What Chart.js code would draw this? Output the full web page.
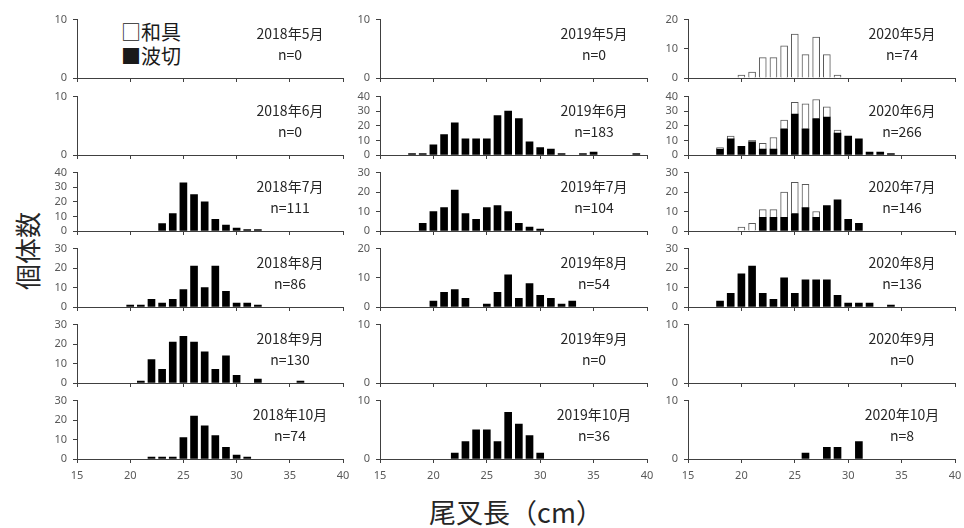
<!DOCTYPE html>
<html><head><meta charset="utf-8">
<script src="https://cdn.jsdelivr.net/npm/chart.js@4.4.1/dist/chart.umd.min.js"></script>
<style>
body{margin:0;background:#fff;}
#wrap{position:relative;width:964px;height:528px;overflow:hidden;font-family:"Noto Sans CJK JP","Noto Sans",sans-serif;background:#fff;}
canvas{position:absolute;}
.lbl{position:absolute;width:120px;text-align:center;font-size:14px;color:#262626;line-height:1;white-space:nowrap;}
.leg{position:absolute;left:121px;font-size:20px;color:#1a1a1a;line-height:1;white-space:nowrap;}
#ytitle{position:absolute;left:-23px;top:238px;width:100px;text-align:center;font-size:26px;color:#262626;transform:rotate(-90deg);line-height:1;}
#xtitle{position:absolute;left:366px;top:498px;width:300px;text-align:center;font-size:27px;color:#262626;line-height:1;}
</style></head><body><div id="wrap">
<div class="leg" style="top:22px">□和具</div>
<div class="leg" style="top:46px">■波切</div>
<div id="ytitle">個体数</div>
<div id="xtitle">尾叉長（cm）</div>
</div>
<script>
// length bins (cm)
const bins = [18,19,20,21,22,23,24,25,26,27,28,29,30,31,32,33,34,35,36,37,38,39];
const xTicks = [15,20,25,30,35,40];
const years = ['2018','2019','2020'];
const months = ['5','6','7','8','9','10'];

// 波切 (black)
const namikiri_2018_07 = [0,0,0,0,0,5,12,33,25,20,8,4,2,1,1,0,0,0,0,0,0,0];
const namikiri_2018_08 = [0,0,1,1,4,2,4,9,21,10,21,8,2,2,1,0,0,0,0,0,0,0];
const namikiri_2018_09 = [0,0,0,1,12,7,21,24,21,16,7,14,4,0,2,0,0,0,1,0,0,0];
const namikiri_2018_10 = [0,0,0,0,1,1,1,11,22,17,12,6,2,1,0,0,0,0,0,0,0,0];
const namikiri_2019_06 = [1,1,7,14,22,11,11,11,27,30,25,9,5,4,1,0,1,2,0,0,0,1];
const namikiri_2019_07 = [0,4,10,12,21,9,6,12,13,10,4,2,1,0,0,0,0,0,0,0,0,0];
const namikiri_2019_08 = [0,0,2,5,6,3,0,1,5,11,3,8,4,3,1,2,0,0,0,0,0,0];
const namikiri_2019_10 = [0,0,0,0,1,3,5,5,3,8,6,4,1,0,0,0,0,0,0,0,0,0];
const namikiri_2020_06 = [4,11,6,9,4,4,18,28,18,25,26,15,13,11,2,2,1,0,0,0,0,0];
const namikiri_2020_07 = [0,0,0,0,7,7,7,9,12,7,13,16,6,4,0,0,0,0,0,0,0,0];
const namikiri_2020_08 = [3,7,17,21,7,4,15,7,14,14,14,6,2,2,2,0,1,0,0,0,0,0];
const namikiri_2020_10 = [0,0,0,0,0,0,0,0,1,0,2,2,0,3,0,0,0,0,0,0,0,0];
// 和具 (white)
const wagu_2020_05 = [0,0,1,2,7,7,11,15,8,14,8,1,0,0,0,0,0,0,0,0,0,0];
const wagu_2020_06 = [1,2,0,1,4,8,6,8,17,13,7,2,0,0,0,0,0,0,0,0,0,0];
const wagu_2020_07 = [0,0,2,4,4,4,13,16,12,3,0,0,0,0,0,0,0,0,0,0,0,0];

const yMax_2018 = [10,10,40,30,30,30];
const yMax_2019 = [10,40,30,20,10,10];
const yMax_2020 = [20,40,30,30,10,10];
const n_2018 = [0,0,111,86,130,74];
const n_2019 = [0,183,104,54,0,36];
const n_2020 = [74,266,146,136,0,8];

// tables built from the arrays above
const namikiriTable = [
  [null,null,namikiri_2018_07,namikiri_2018_08,namikiri_2018_09,namikiri_2018_10],
  [null,namikiri_2019_06,namikiri_2019_07,namikiri_2019_08,null,namikiri_2019_10],
  [null,namikiri_2020_06,namikiri_2020_07,namikiri_2020_08,null,namikiri_2020_10]
];
const waguTable = [
  [null,null,null,null,null,null],
  [null,null,null,null,null,null],
  [wagu_2020_05,wagu_2020_06,wagu_2020_07,null,null,null]
];
const yMaxTable = [yMax_2018,yMax_2019,yMax_2020];
const nTable = [n_2018,n_2019,n_2020];

const wrap = document.getElementById('wrap');
const colL = [77,380,688], colR = [343,647,955];
const rowT = [19,96,172,248,324,400];
const PH = 59;
const axisC = '#404040';
const tickFont = {family:'"Noto Sans", sans-serif', size:11};

function pts(arr){
  return bins.map((b,i)=>({x:b,y:arr[i]})).filter(p=>p.y>0);
}

function makePanel(col,row){
  const L = colL[col], R = colR[col], T = rowT[row];
  const padL = 45, padT = 12, padR = 14, xh = 32;
  const w = R - L + padL + padR, h = PH + padT + xh;
  const cv = document.createElement('canvas');
  cv.width = w; cv.height = h;
  cv.style.left = (L-padL)+'px'; cv.style.top = (T-padT)+'px';
  cv.style.width = w+'px'; cv.style.height = h+'px';
  wrap.appendChild(cv);
  const datasets = [];
  const nk = namikiriTable[col][row], wg = waguTable[col][row];
  if (nk) datasets.push({label:'波切', data:pts(nk), backgroundColor:'#000', borderWidth:0, barThickness:7});
  if (wg) datasets.push({label:'和具', data:pts(wg), backgroundColor:'#fff', borderColor:'#595959', borderWidth:1, barThickness:7});
  const bottom = row === 5;
  new Chart(cv, {
    type:'bar',
    data:{datasets},
    options:{
      responsive:false, animation:false, devicePixelRatio:1,
      layout:{padding:{left:0,top:padT,right:padR,bottom:0}},
      plugins:{legend:{display:false}, tooltip:{enabled:false}},
      scales:{
        x:{type:'linear', min:xTicks[0], max:xTicks[xTicks.length-1], offset:false, stacked:true,
           grid:{offset:false, drawOnChartArea:false, drawTicks:true, tickLength:4, color:axisC},
           border:{color:axisC, width:1},
           ticks:{stepSize:5, padding:6, color:'#595959', font:tickFont, maxRotation:0, autoSkip:false,
                  callback:(v)=> bottom ? String(v) : ''},
           afterFit(s){ s.height = xh; }},
        y:{min:0, max:yMaxTable[col][row], stacked:true,
           grid:{drawOnChartArea:false, drawTicks:true, tickLength:4, color:axisC},
           border:{color:axisC, width:1},
           ticks:{stepSize:10, padding:6, color:'#595959', font:tickFont, autoSkip:false},
           afterFit(s){ s.width = padL; }}
      }
    }
  });
  const d1 = document.createElement('div');
  d1.className = 'lbl'; d1.textContent = years[col]+'年'+months[row]+'月';
  d1.style.left = (R-53-60)+'px'; d1.style.top = (T+7)+'px';
  wrap.appendChild(d1);
  const d2 = document.createElement('div');
  d2.className = 'lbl'; d2.textContent = 'n='+nTable[col][row];
  d2.style.left = (R-53-60)+'px'; d2.style.top = (T+28)+'px';
  wrap.appendChild(d2);
}
for (let c=0;c<3;c++) for (let r=0;r<6;r++) makePanel(c,r);
</script>
</body></html>
